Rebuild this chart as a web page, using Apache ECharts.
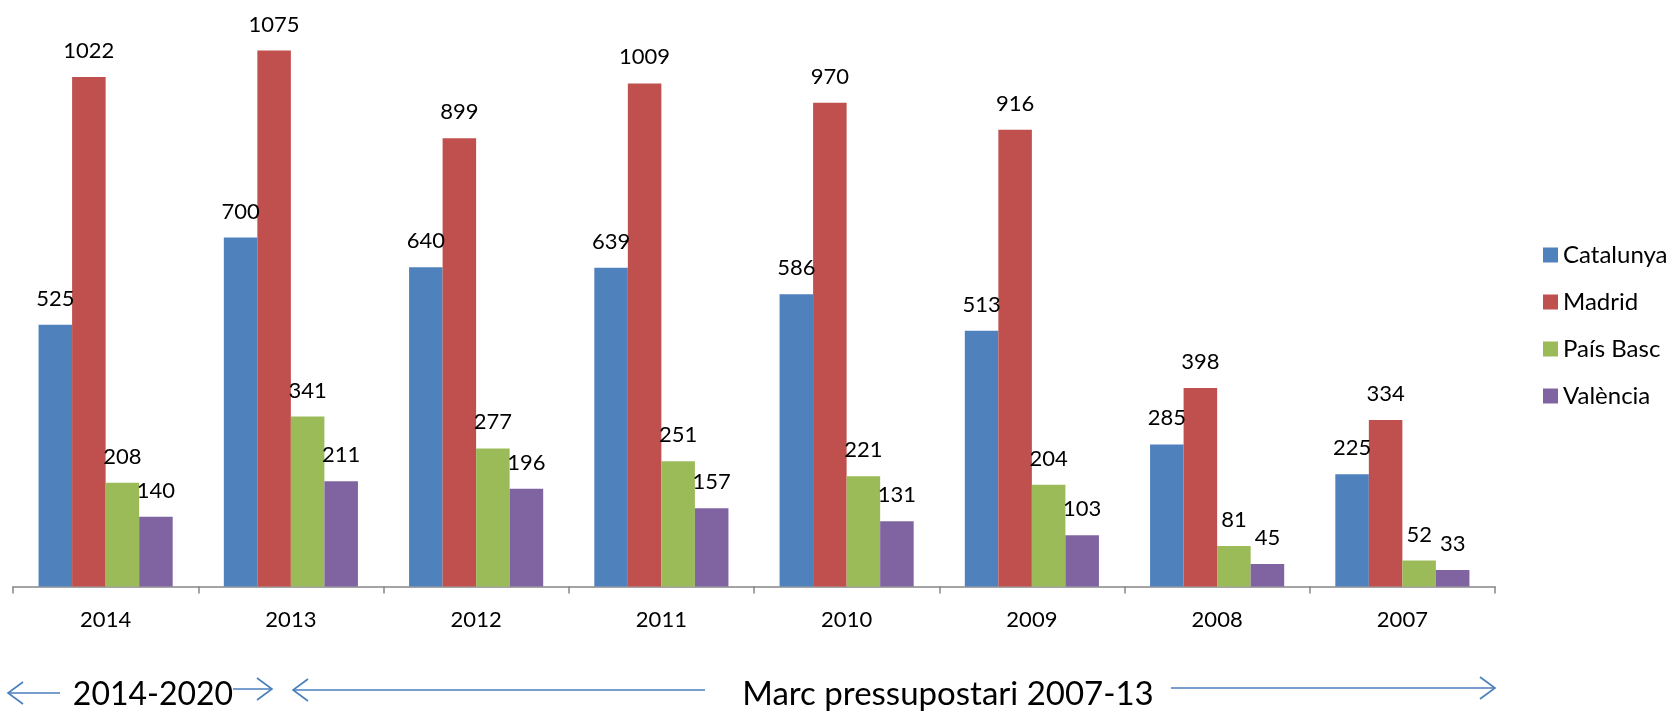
<!DOCTYPE html>
<html>
<head>
<meta charset="utf-8">
<script src="https://cdn.jsdelivr.net/npm/echarts@6/dist/echarts.min.js"></script>
<style>
  html, body { margin: 0; padding: 0; background: #fff; }
  #chart { width: 1669px; height: 711px; }
</style>
</head>
<body>
<div id="chart"></div>
<script>
const years = ['2014', '2013', '2012', '2011', '2010', '2009', '2008', '2007']
const catalunya = [525, 700, 640, 639, 586, 513, 285, 225]
const madrid = [1022, 1075, 899, 1009, 970, 916, 398, 334]
const paisBasc = [208, 341, 277, 251, 221, 204, 81, 52]
const valencia = [140, 211, 196, 157, 131, 103, 45, 33]

const seriesNames = ['Catalunya', 'Madrid', 'País Basc', 'València']
const seriesColors = ['#4f81bd', '#c0504d', '#9bbb59', '#8064a2']
const seriesData = [catalunya, madrid, paisBasc, valencia]

const FONT = 'Lato, "Open Sans", sans-serif'
const ARROW = '#4a7ebb'

const chart = echarts.init(document.getElementById('chart'))

const barSeries = seriesNames.map((name, i) => ({
  name,
  type: 'bar',
  data: seriesData[i],
  barGap: '0%',
  barCategoryGap: '27.6%',
  itemStyle: { color: seriesColors[i] },
  label: {
    show: true,
    position: 'top',
    distance: 15,
    color: '#000',
    fontSize: 22,
    fontFamily: FONT
  }
}))

// open arrowheads for the annotation arrows under the axis
const arrow = (x1, x2, y) => {
  const dir = x2 > x1 ? -1 : 1
  return [
    { type: 'line', shape: { x1, y1: y, x2, y2: y }, style: { stroke: ARROW, lineWidth: 1.6 } },
    { type: 'polyline', shape: { points: [[x2 + dir * 15, y - 11], [x2, y], [x2 + dir * 15, y + 11]] }, style: { stroke: ARROW, lineWidth: 1.6, fill: null } }
  ]
}

chart.setOption({
  animation: false,
  textStyle: { fontFamily: FONT },
  legend: {
    orient: 'vertical',
    left: 1538,
    top: 238,
    itemWidth: 15,
    itemHeight: 15,
    itemGap: 23,
    icon: 'rect',
    textStyle: { fontSize: 24, color: '#000', fontFamily: FONT },
    data: seriesNames
  },
  grid: { left: 13, right: 174, top: 38, bottom: 124.5, containLabel: false },
  xAxis: {
    type: 'category',
    data: years,
    axisLine: { lineStyle: { color: '#868686', width: 1.5 } },
    axisTick: { show: true, length: 7, lineStyle: { color: '#868686', width: 1.5 } },
    axisLabel: { color: '#000', fontSize: 22, margin: 22, fontFamily: FONT }
  },
  yAxis: {
    type: 'value',
    min: 0,
    max: 1100,
    show: false,
    splitLine: { show: false }
  },
  series: barSeries,
  graphic: [
    ...arrow(60, 8, 693),
    ...arrow(233, 272, 689),
    ...arrow(705, 293, 690),
    ...arrow(1171, 1495, 688),
    { type: 'text', x: 153, y: 695, style: { text: '2014-2020', fill: '#000', fontSize: 32, fontFamily: FONT, align: 'center', verticalAlign: 'middle' } },
    { type: 'text', x: 948, y: 694, style: { text: 'Marc pressupostari 2007-13', fill: '#000', fontSize: 33, fontFamily: FONT, align: 'center', verticalAlign: 'middle' } }
  ]
})
</script>
</body>
</html>
